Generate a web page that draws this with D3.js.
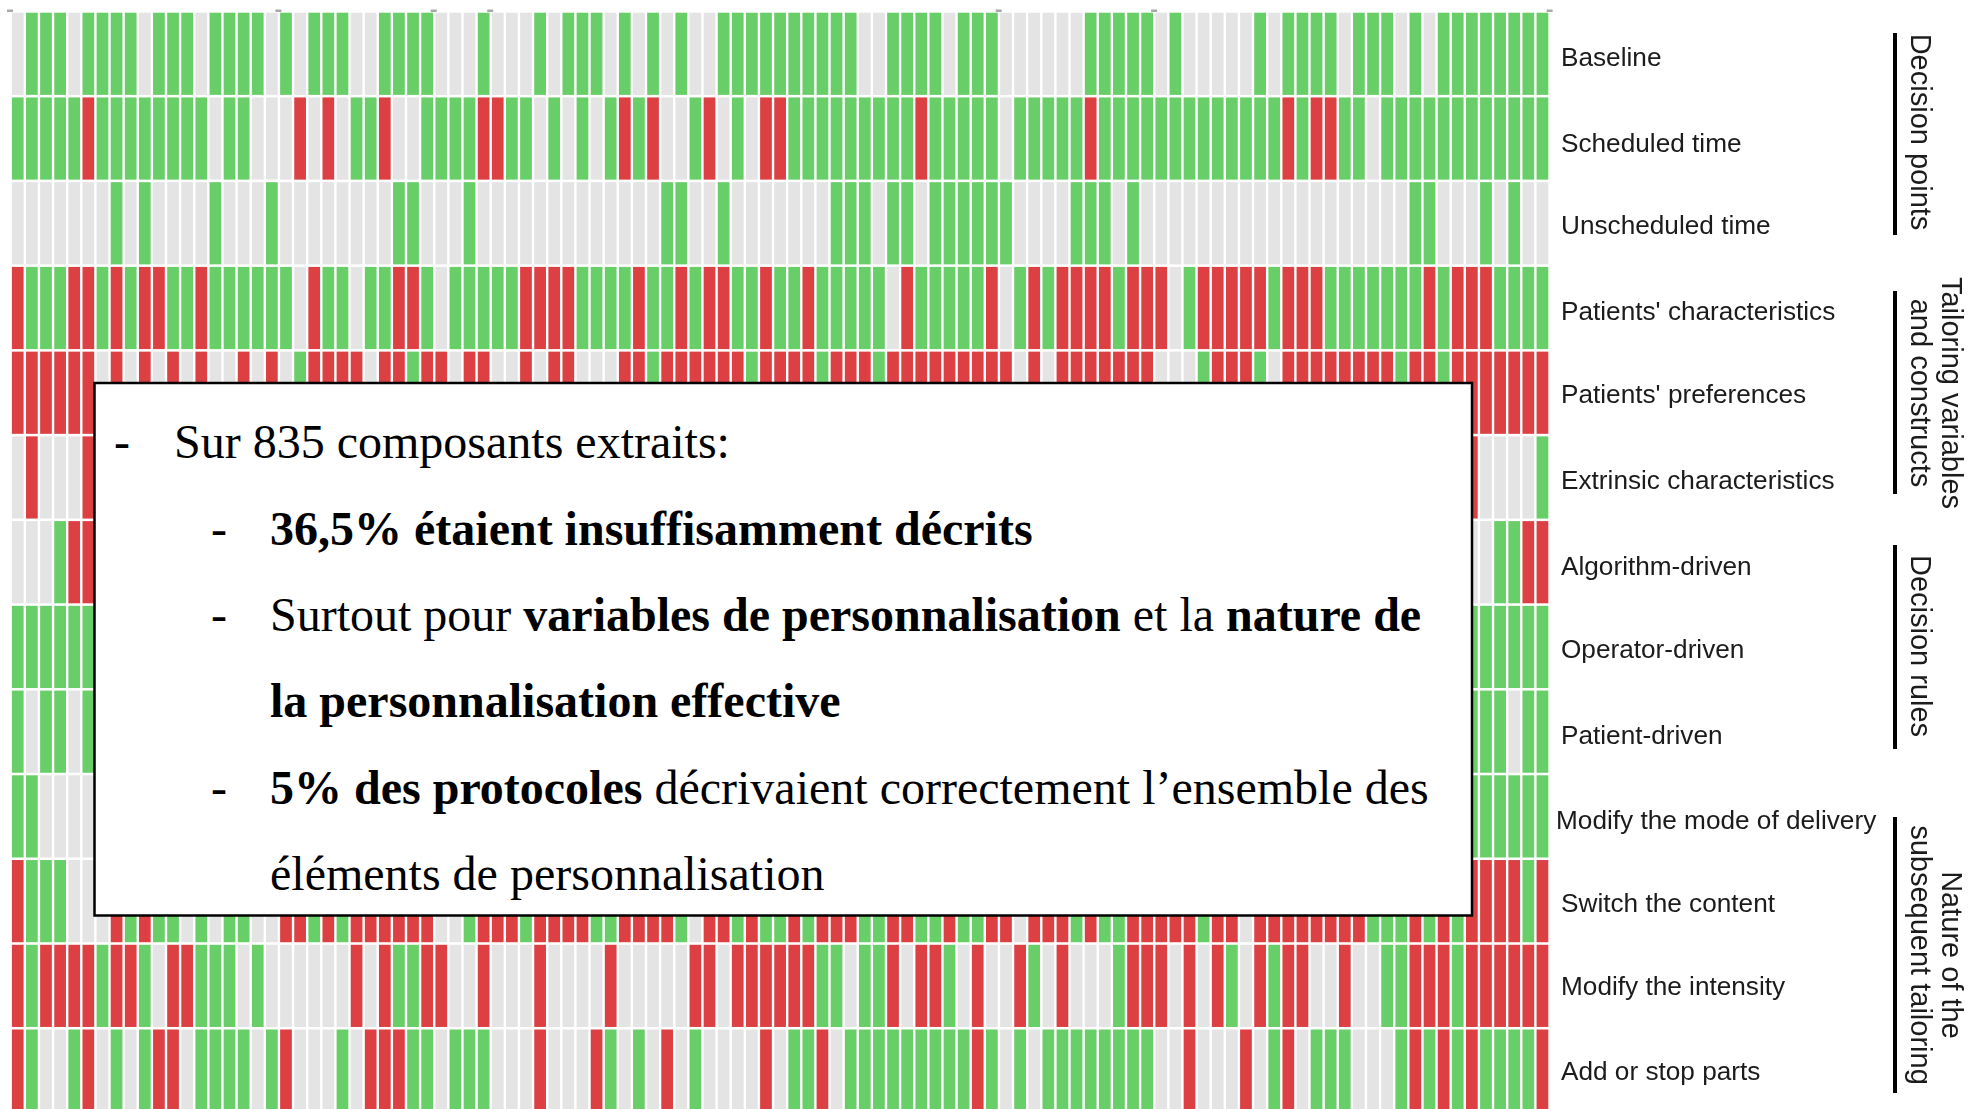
<!DOCTYPE html>
<html>

	<head>
		<meta charset="UTF-8">
		<title></title>
		<style>
			html, body { margin: 0; padding: 0; background: #fff; overflow: hidden; }
		</style>
	</head>

	<body>
		<div id="chart"></div>
	</body>
	<script src="https://d3js.org/d3.v7.min.js"></script>
	<script>
		// 0 = not reported, 1 = adequately described, 2 = insufficiently described
		// cells under the text box cannot be read, they stay at 0
		var baseline = [0,1,1,1,0,1,1,1,1,0, 1,1,1,0,1,1,1,1,0,1, 0,1,1,1,0,0,1,1,1,1, 0,0,0,1,0,0,0,1,0,1, 1,1,0,1,0,1,0,1,0,0, 1,1,1,1,1,1,1,1,1,1, 0,0,1,1,1,1,0,1,1,1, 0,0,0,0,0,0,1,1,1,1, 1,0,1,0,0,0,0,0,1,0, 1,1,1,1,0,1,1,1,0,1, 0,1,1,1,1,1,1,1,1];
		var scheduled = [1,1,1,1,1,2,1,1,1,1, 1,1,1,1,0,1,1,0,0,0, 2,0,2,0,1,1,2,0,0,1, 1,1,1,2,2,1,1,0,1,0, 1,0,1,2,1,2,0,0,1,2, 0,1,0,2,2,1,1,1,1,1, 1,1,1,1,2,1,1,1,1,1, 0,1,1,1,1,1,2,1,1,1, 1,1,1,1,1,1,1,1,1,1, 2,1,2,2,1,1,0,1,1,1, 1,1,1,1,1,1,1,1,1];
		var unscheduled = [0,0,0,0,0,0,0,1,0,1, 0,0,0,0,1,0,0,0,1,0, 0,0,0,0,0,0,0,1,1,0, 0,0,1,0,0,0,0,0,0,0, 0,0,0,0,0,0,1,1,0,0, 1,0,0,0,0,0,0,0,1,1, 1,0,1,1,0,1,1,1,1,1, 1,0,0,0,0,1,1,1,0,1, 0,0,0,0,0,0,0,0,0,0, 0,0,0,0,0,0,0,0,0,1, 1,0,0,0,1,0,1,0,0];
		var patientChar = [2,1,1,1,2,2,1,2,1,2, 2,1,1,2,1,1,1,1,1,1, 0,2,1,1,0,1,1,2,2,1, 0,1,1,1,1,1,2,2,2,2, 1,1,1,1,2,1,1,2,1,2, 2,1,1,2,1,1,2,1,1,1, 1,1,0,2,1,1,1,1,1,2, 0,1,2,1,2,2,2,2,1,2, 2,2,0,1,2,2,2,2,2,1, 2,2,2,1,1,1,1,1,1,1, 2,1,2,2,2,1,1,1,1];
		var patientPref = [2,2,2,2,2,2,0,2,0,2, 0,2,0,2,0,0,2,0,2,0, 1,2,2,2,2,0,2,2,1,2, 2,0,2,2,0,0,2,0,2,2, 0,0,0,2,2,1,2,2,2,2, 2,2,1,2,2,2,2,1,2,2, 2,1,2,2,2,2,2,2,2,2, 2,0,2,0,2,2,2,2,2,2, 2,0,0,0,1,2,2,2,1,0, 2,2,2,2,2,2,2,2,1,2, 2,1,2,2,2,2,2,2,2];
		var extrinsic = [0,2,0,0,0,2,0,0,0,0, 0,0,0,0,0,0,0,0,0,0, 0,0,0,0,0,0,0,0,0,0, 0,0,0,0,0,0,0,0,0,0, 0,0,0,0,0,0,0,0,0,0, 0,0,0,0,0,0,0,0,0,0, 0,0,0,0,0,0,0,0,0,0, 0,0,0,0,0,0,0,0,0,0, 0,0,0,0,0,0,0,0,0,0, 0,0,0,0,0,0,0,0,0,0, 0,0,0,2,0,0,0,0,1];
		var algorithm = [0,0,0,1,2,2,0,0,0,0, 0,0,0,0,0,0,0,0,0,0, 0,0,0,0,0,0,0,0,0,0, 0,0,0,0,0,0,0,0,0,0, 0,0,0,0,0,0,0,0,0,0, 0,0,0,0,0,0,0,0,0,0, 0,0,0,0,0,0,0,0,0,0, 0,0,0,0,0,0,0,0,0,0, 0,0,0,0,0,0,0,0,0,0, 0,0,0,0,0,0,0,0,0,0, 0,0,0,0,0,1,1,2,2];
		var operator = [1,1,1,1,1,1,0,0,0,0, 0,0,0,0,0,0,0,0,0,0, 0,0,0,0,0,0,0,0,0,0, 0,0,0,0,0,0,0,0,0,0, 0,0,0,0,0,0,0,0,0,0, 0,0,0,0,0,0,0,0,0,0, 0,0,0,0,0,0,0,0,0,0, 0,0,0,0,0,0,0,0,0,0, 0,0,0,0,0,0,0,0,0,0, 0,0,0,0,0,0,0,0,0,0, 0,0,0,1,1,1,1,1,1];
		var patientDriven = [1,0,1,1,0,1,0,0,0,0, 0,0,0,0,0,0,0,0,0,0, 0,0,0,0,0,0,0,0,0,0, 0,0,0,0,0,0,0,0,0,0, 0,0,0,0,0,0,0,0,0,0, 0,0,0,0,0,0,0,0,0,0, 0,0,0,0,0,0,0,0,0,0, 0,0,0,0,0,0,0,0,0,0, 0,0,0,0,0,0,0,0,0,0, 0,0,0,0,0,0,0,0,0,0, 0,0,0,1,1,1,0,1,1];
		var modeDelivery = [1,1,0,0,0,0,0,0,0,0, 0,0,0,0,0,0,0,0,0,0, 0,0,0,0,0,0,0,0,0,0, 0,0,0,0,0,0,0,0,0,0, 0,0,0,0,0,0,0,0,0,0, 0,0,0,0,0,0,0,0,0,0, 0,0,0,0,0,0,0,0,0,0, 0,0,0,0,0,0,0,0,0,0, 0,0,0,0,0,0,0,0,0,0, 0,0,0,0,0,0,0,0,0,0, 0,0,0,1,1,1,1,1,1];
		var switchContent = [2,1,1,1,0,0,0,2,1,2, 1,1,0,1,0,1,1,0,0,2, 2,1,2,1,2,2,2,2,2,2, 0,0,1,2,2,2,1,2,2,2, 2,1,1,2,2,2,2,1,0,2, 2,1,2,1,1,2,1,2,2,2, 1,1,2,2,1,1,2,1,1,2, 2,0,2,2,2,1,2,1,1,2, 2,2,2,2,1,2,2,0,2,2, 2,2,2,2,2,2,1,1,1,2, 1,2,1,2,2,2,2,1,2];
		var intensity = [2,1,2,2,2,2,1,2,2,1, 0,2,2,1,1,1,0,1,0,0, 0,0,0,0,2,0,2,1,1,2, 2,0,0,2,0,0,0,2,0,0, 0,0,2,0,0,0,0,0,2,2, 0,2,2,2,2,2,2,1,1,0, 1,1,2,0,2,2,1,0,2,0, 0,2,1,0,2,0,0,0,1,2, 2,2,0,2,0,2,1,0,2,1, 2,2,0,0,2,0,0,1,1,2, 2,2,1,2,2,2,2,2,2];
		var addStop = [2,1,0,0,1,2,0,1,0,1, 2,2,0,1,1,1,1,0,1,2, 0,0,0,1,0,2,2,2,1,1, 0,1,1,1,0,0,0,2,0,0, 0,2,1,0,1,0,2,0,1,0, 0,0,0,2,0,1,1,2,0,1, 1,1,1,1,1,1,1,1,2,1, 0,1,0,1,1,1,1,1,1,1, 1,0,0,2,0,0,0,2,0,1, 2,0,1,1,1,0,0,0,1,2, 1,2,1,2,1,1,1,1,2];

		var rowNames = ["Baseline", "Scheduled time", "Unscheduled time", "Patients' characteristics", "Patients' preferences", "Extrinsic characteristics", "Algorithm-driven", "Operator-driven", "Patient-driven", "Modify the mode of delivery", "Switch the content", "Modify the intensity", "Add or stop parts"];
		var rowValues = [baseline, scheduled, unscheduled, patientChar, patientPref, extrinsic, algorithm, operator, patientDriven, modeDelivery, switchContent, intensity, addStop];

		var groupNames = [["Decision points"], ["Tailoring variables", "and constructs"], ["Decision rules"], ["Nature of the", "subsequent tailoring"]];

		// small leftover tick marks above the grid, as column edges
		var topTicks = [0, 19, 30, 34, 70, 81, 109];

		// text box, [text, bold] pieces per line
		var boxLines = [
			{ level: 0, dash: true, parts: [["Sur 835 composants extraits:", false]] },
			{ level: 1, dash: true, parts: [["36,5% étaient insuffisamment décrits", true]] },
			{ level: 1, dash: true, parts: [["Surtout pour ", false], ["variables de personnalisation", true], [" et la ", false], ["nature de", true]] },
			{ level: 1, dash: false, parts: [["la personnalisation effective", true]] },
			{ level: 1, dash: true, parts: [["5% des protocoles", true], [" décrivaient correctement l’ensemble des", false]] },
			{ level: 1, dash: false, parts: [["éléments de personnalisation", false]] }
		];

		var width = 1970,
			height = 1109,
			colors = ["#e4e4e4", "#68ce68", "#dd4043"];

		var svg = d3.select("#chart")
			.append("svg")
			.attr("width", width)
			.attr("height", height)
			.style("display", "block");

		var defs = svg.append("defs");
		defs.append("filter").attr("id", "soft")
			.attr("x", "-2%").attr("y", "-2%").attr("width", "104%").attr("height", "104%")
			.append("feGaussianBlur").attr("stdDeviation", 0.55);
		defs.append("filter").attr("id", "softText")
			.attr("x", "-5%").attr("y", "-5%").attr("width", "110%").attr("height", "110%")
			.append("feGaussianBlur").attr("stdDeviation", 0.45);

		var xScale = d3.scaleBand()
			.domain(d3.range(baseline.length))
			.range([11.9, 1548.3])
			.paddingInner(0.17);

		var yScale = d3.scaleBand()
			.domain(rowNames)
			.range([12.7, 1111.7])
			.paddingInner(0.03);

		var xEdge = d3.scaleLinear()
			.domain([0, baseline.length])
			.range([10, 1549.6]);

		// leftover ticks
		svg.append("g").attr("filter", "url(#soft)")
			.selectAll("rect")
			.data(topTicks)
			.join("rect")
			.attr("x", function(d) { return xEdge(d) - 3; })
			.attr("y", 9.5)
			.attr("width", 6)
			.attr("height", 2.5)
			.attr("fill", "#a8a8a8");

		// cells
		var grid = svg.append("g").attr("filter", "url(#soft)");

		grid.selectAll("g")
			.data(rowNames)
			.join("g")
			.attr("transform", function(d) {
				return "translate(0," + yScale(d) + ")";
			})
			.selectAll("rect")
			.data(function(d, i) {
				return rowValues[i];
			})
			.join("rect")
			.attr("x", function(d, i) {
				return xScale(i);
			})
			.attr("width", xScale.bandwidth())
			.attr("height", yScale.bandwidth())
			.attr("fill", function(d) {
				return colors[d];
			});

		// row labels
		var labelDy = [3, 4, 2, 3, 1, 2.5, 3.5, 2, 3, 4, 2, 0, 0];
		var yAxis = d3.axisRight(yScale)
			.tickSize(0)
			.tickPadding(0);

		var labels = svg.append("g")
			.attr("transform", "translate(1561,0)")
			.attr("filter", "url(#softText)")
			.call(yAxis);

		labels.select(".domain").remove();
		labels.selectAll("text")
			.attr("font-family", "'Liberation Sans', Arial, sans-serif")
			.attr("font-size", 26.2)
			.attr("fill", "#1a1a1a")
			.attr("dy", function(d, i) {
				return (9 + labelDy[i]) + "px";
			})
			.attr("x", function(d) {
				return d === "Modify the mode of delivery" ? -5 : 0;
			});

		// group brackets
		var bracketSpans = [[33, 235], [291, 494], [545, 749], [817, 1093]];
		var groupCenter = [132, 393, 646, 955];

		svg.append("g").selectAll("line")
			.data(bracketSpans)
			.join("line")
			.attr("x1", 1895)
			.attr("x2", 1895)
			.attr("y1", function(d) { return d[0]; })
			.attr("y2", function(d) { return d[1]; })
			.attr("stroke", "#000")
			.attr("stroke-width", 4);

		var groups = svg.append("g")
			.attr("filter", "url(#softText)")
			.selectAll("g")
			.data(groupNames)
			.join("g")
			.attr("transform", function(d, i) {
				return "translate(" + (d.length === 2 ? 1941.5 : 1911) + "," + groupCenter[i] + ") rotate(90)";
			});

		groups.selectAll("text")
			.data(function(d) { return d; })
			.join("text")
			.attr("y", function(d, i) { return i * 30.5; })
			.attr("text-anchor", "middle")
			.attr("font-family", "'Liberation Sans', Arial, sans-serif")
			.attr("font-size", 29)
			.attr("fill", "#1a1a1a")
			.text(function(d) { return d; });

		// text box on top of the grid
		svg.append("rect")
			.attr("x", 94.5)
			.attr("y", 383)
			.attr("width", 1377.5)
			.attr("height", 532.5)
			.attr("fill", "#fff")
			.attr("stroke", "#000")
			.attr("stroke-width", 2.5);

		var lineScale = d3.scaleLinear().domain([0, 5]).range([458.2, 890.2]);
		var dashX = [114, 211],
			textX = [174, 270];

		var box = svg.append("g")
			.attr("font-family", "'Liberation Serif', 'Times New Roman', serif")
			.attr("font-size", 48)
			.attr("fill", "#000");

		boxLines.forEach(function(line, i) {
			if (line.dash) {
				box.append("text")
					.attr("x", dashX[line.level])
					.attr("y", lineScale(i))
					.text("-");
			}
			box.append("text")
				.attr("x", textX[line.level])
				.attr("y", lineScale(i))
				.attr("xml:space", "preserve")
				.style("white-space", "pre")
				.selectAll("tspan")
				.data(line.parts)
				.join("tspan")
				.attr("font-weight", function(d) { return d[1] ? "bold" : "normal"; })
				.text(function(d) { return d[0]; });
		});
	</script>

</html>
